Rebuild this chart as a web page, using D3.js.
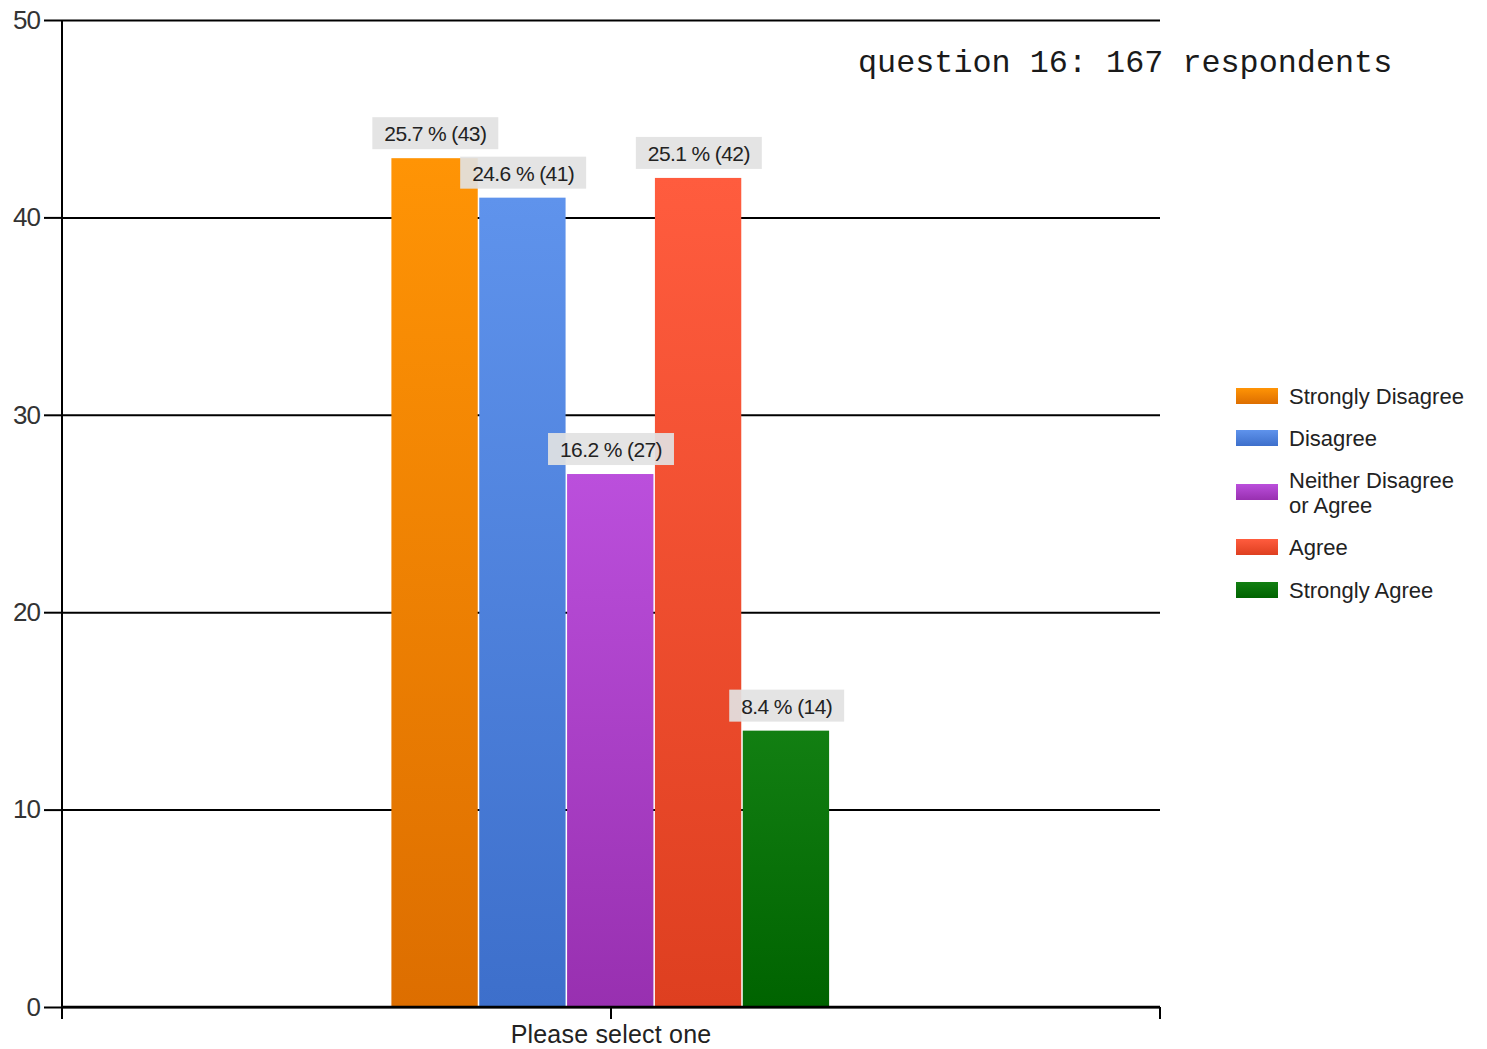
<!DOCTYPE html>
<html>
<head>
<meta charset="utf-8">
<script src="https://cdn.jsdelivr.net/npm/d3@7"></script>
<style>
  html, body { margin: 0; padding: 0; background: #ffffff; }
  svg { display: block; }
</style>
</head>
<body>
<svg id="chart" width="1487" height="1049"></svg>
<script>
// ---- data ----
const categories = ["Please select one"];
const seriesNames = ["Strongly Disagree", "Disagree", "Neither Disagree or Agree", "Agree", "Strongly Agree"];
const legendLines = [["Strongly Disagree"], ["Disagree"], ["Neither Disagree", "or Agree"], ["Agree"], ["Strongly Agree"]];
const counts = [43, 41, 27, 42, 14];
const percents = ["25.7", "24.6", "16.2", "25.1", "8.4"];
const yTicks = [0, 10, 20, 30, 40, 50];
const titleText = "question 16: 167 respondents";
const colorsTop = ["#ff9405", "#5f93ec", "#bb4fdc", "#ff5c3e", "#127f12"];
const colorsBottom = ["#dd6e00", "#3d6fcb", "#9830b0", "#de3f20", "#006300"];

// ---- layout ----
const svg = d3.select("#chart");
const pLeft = 62, pRight = 1160, pTop = 20, pBottom = 1007;

const x = d3.scaleBand().domain(categories).range([pLeft, pRight]).paddingInner(0).paddingOuter(0.75);
const xs = d3.scaleBand().domain(seriesNames).range([0, x.bandwidth()]).padding(0);
const y = d3.scaleLinear().domain([0, 50]).range([pBottom, pTop]);

// gradients
const defs = svg.append("defs");
seriesNames.forEach((s, i) => {
  const g = defs.append("linearGradient").attr("id", "g" + i)
    .attr("x1", 0).attr("y1", 0).attr("x2", 0).attr("y2", 1);
  g.append("stop").attr("offset", "0%").attr("stop-color", colorsTop[i]);
  g.append("stop").attr("offset", "100%").attr("stop-color", colorsBottom[i]);
});

// gridlines
const grid = svg.append("g").attr("transform", `translate(${pLeft},0)`)
  .call(d3.axisLeft(y).tickValues(yTicks).tickSize(-(pRight - pLeft)).tickFormat(""));
grid.select(".domain").remove();
grid.selectAll("line").attr("stroke", "#000").attr("stroke-width", 2);

// bars
const barsG = svg.append("g");
categories.forEach(c => {
  seriesNames.forEach((s, i) => {
    barsG.append("rect")
      .attr("x", x(c) + xs(s))
      .attr("y", y(counts[i]))
      .attr("width", xs.bandwidth() - 1.5)
      .attr("height", y(0) - y(counts[i]))
      .attr("fill", `url(#g${i})`);
  });
});

// y axis
const yAxis = svg.append("g").attr("transform", `translate(${pLeft},0)`)
  .call(d3.axisLeft(y).tickValues(yTicks).tickSize(18).tickPadding(4));
yAxis.select(".domain").remove();
yAxis.selectAll("line").attr("stroke", "#000").attr("stroke-width", 2);
yAxis.selectAll("text").attr("font-family", "Liberation Sans, Arial, sans-serif")
  .attr("font-size", 26).attr("fill", "#333").attr("letter-spacing", -1);

svg.append("line").attr("x1", pLeft).attr("x2", pLeft).attr("y1", pTop).attr("y2", pBottom + 12)
  .attr("stroke", "#000").attr("stroke-width", 2);

// x axis
const xAxis = svg.append("g").attr("transform", `translate(0,${pBottom})`)
  .call(d3.axisBottom(x).tickSize(12).tickPadding(4));
xAxis.select(".domain").remove();
xAxis.selectAll("line").attr("stroke", "#000").attr("stroke-width", 2);
xAxis.selectAll("text").attr("font-family", "Liberation Sans, Arial, sans-serif")
  .attr("font-size", 25).attr("fill", "#222").attr("dy", "0.8em").attr("letter-spacing", 0.2);
svg.append("line").attr("x1", pLeft).attr("x2", pRight).attr("y1", pBottom).attr("y2", pBottom)
  .attr("stroke", "#000").attr("stroke-width", 2.5);
svg.append("line").attr("x1", pRight).attr("x2", pRight).attr("y1", pBottom).attr("y2", pBottom + 12)
  .attr("stroke", "#000").attr("stroke-width", 2);

// value labels
const labG = svg.append("g");
categories.forEach(c => {
  seriesNames.forEach((s, i) => {
    const cx = x(c) + xs(s) + xs.bandwidth() / 2;
    const yb = y(counts[i]) - 9;
    const g = labG.append("g");
    const r = g.append("rect").attr("fill", "rgba(226,226,226,0.92)");
    const t = g.append("text")
      .attr("x", cx).attr("y", yb - 8)
      .attr("text-anchor", "middle")
      .attr("font-family", "Liberation Sans, Arial, sans-serif")
      .attr("font-size", 21).attr("letter-spacing", -0.6)
      .attr("fill", "#222")
      .text(`${percents[i]} % (${counts[i]})`);
    const bb = t.node().getBBox();
    r.attr("x", cx - bb.width / 2 - 12).attr("width", bb.width + 24)
      .attr("y", yb - 32).attr("height", 32);
  });
});

// title
svg.append("text").attr("x", 858).attr("y", 72)
  .attr("font-family", "Liberation Mono, Courier New, monospace")
  .attr("font-size", 31.8).attr("fill", "#1a1a1a")
  .text(titleText);

// legend
const legY = [396, 438, 492, 547, 590];
const leg = svg.append("g");
seriesNames.forEach((s, i) => {
  leg.append("rect").attr("x", 1236).attr("y", legY[i] - 8).attr("width", 42).attr("height", 16)
    .attr("fill", `url(#g${i})`);
  const lines = legendLines[i];
  const t = leg.append("text")
    .attr("font-family", "Liberation Sans, Arial, sans-serif")
    .attr("font-size", 22).attr("fill", "#222");
  lines.forEach((ln, k) => {
    t.append("tspan").attr("x", 1289)
      .attr("y", legY[i] + 8 + (k - (lines.length - 1) / 2) * 25)
      .text(ln);
  });
});
</script>
</body>
</html>
